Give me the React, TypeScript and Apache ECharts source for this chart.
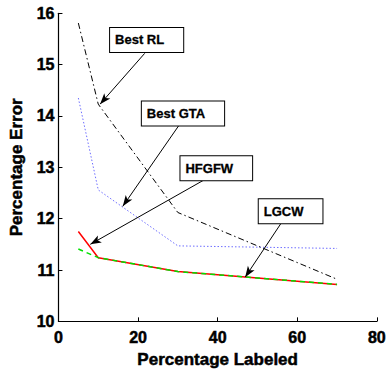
import React, { useEffect, useRef } from "react";
import * as echarts from "echarts";

// Percentage labeled (x) for every method
const labeled = [5, 10, 30, 70];

// Percentage error per method
const bestRL = [15.81, 14.23, 12.12, 10.82];
const bestGTA = [14.35, 12.56, 11.47, 11.42];
const hfgfw = [11.75, 11.24, 10.97, 10.72];
const lgcw = [11.41, 11.24, 10.97, 10.72];

const xTicks = [0, 20, 40, 60, 80];
const yTicks = [10, 11, 12, 13, 14, 15, 16];

// Callout boxes: label text, box centre, arrow tail and arrow tip (data units)
const calloutText = ["Best RL", "Best GTA", "HFGFW", "LGCW"];
const calloutBox = [
  [22.16, 15.48],
  [31.29, 14.05],
  [39.66, 12.98],
  [58.33, 12.145],
];
const calloutTail = [
  [21.67, 15.22],
  [30.39, 13.83],
  [36.49, 12.75],
  [56.02, 11.92],
];
const calloutTip = [
  [10.45, 14.23],
  [16.16, 12.24],
  [8.01, 11.5],
  [46.91, 10.86],
];

const FONT = "'Liberation Sans', Arial, Helvetica, sans-serif";

export default function App() {
  const ref = useRef<HTMLDivElement>(null);

  useEffect(() => {
    if (!ref.current) return;
    const chart = echarts.init(ref.current, undefined, { renderer: "svg" });

    const pts = (ys: number[]) => labeled.map((x, i) => [x, ys[i]]);

    // Heavy axis text: bold face plus a thin same-colour outline
    const boldText = (size: number, stroke = 0.5) => ({
      fontFamily: FONT,
      fontWeight: "bold",
      fontSize: size,
      color: "#000",
      textBorderColor: "#000",
      textBorderWidth: stroke,
    });

    const option: any = {
      animation: false,
      backgroundColor: "#fff",
      grid: { left: 50.5, right: 10.7, top: 13.3, bottom: 37.5 },
      xAxis: {
        type: "value",
        min: xTicks[0],
        max: xTicks[xTicks.length - 1],
        interval: 20,
        name: "Percentage Labeled",
        nameLocation: "middle",
        nameGap: 23,
        nameTextStyle: boldText(17),
        axisLine: { lineStyle: { color: "#000", width: 1.2 } },
        axisTick: { inside: true, length: 4, lineStyle: { color: "#000" } },
        axisLabel: { ...boldText(16), margin: 8 },
        splitLine: { show: false },
      },
      yAxis: {
        type: "value",
        min: yTicks[0],
        max: yTicks[yTicks.length - 1],
        interval: 1,
        name: "Percentage Error",
        nameLocation: "middle",
        nameGap: 31,
        nameTextStyle: boldText(17),
        axisLine: { show: true, lineStyle: { color: "#000", width: 1.2 } },
        axisTick: { show: true, inside: true, length: 4, lineStyle: { color: "#000" } },
        axisLabel: { ...boldText(16), margin: 4 },
        splitLine: { show: false },
      },
      series: [
        {
          name: "Best RL",
          type: "line",
          data: pts(bestRL),
          showSymbol: false,
          lineStyle: { color: "#000", width: 1, type: [6, 3, 1.5, 3] },
          markLine: {
            silent: true,
            symbol: ["none", "arrow"],
            symbolSize: [6, 11],
            label: { show: false },
            lineStyle: { color: "#000", width: 1, type: "solid" },
            data: calloutTail.map((t, i) => [{ coord: t }, { coord: calloutTip[i] }]),
          },
          markPoint: {
            silent: true,
            symbol: "rect",
            symbolSize: 1,
            itemStyle: { color: "rgba(0,0,0,0)" },
            data: calloutBox.map((c, i) => ({
              coord: c,
              label: {
                show: true,
                position: "inside",
                formatter: calloutText[i],
                ...boldText(13, 0.3),
                backgroundColor: "#fff",
                borderColor: "#000",
                borderWidth: 1,
                padding: [5, 19, 4, 5],
                lineHeight: 15,
              },
            })),
          },
          z: 3,
        },
        {
          name: "Best GTA",
          type: "line",
          data: pts(bestGTA),
          showSymbol: false,
          lineStyle: { color: "#6f6fff", width: 1, type: [1.5, 2] },
          z: 2,
        },
        {
          name: "HFGFW",
          type: "line",
          data: pts(hfgfw),
          showSymbol: false,
          lineStyle: { color: "#ff0000", width: 1.5, type: "solid" },
          z: 2,
        },
        {
          name: "LGCW",
          type: "line",
          data: pts(lgcw),
          showSymbol: false,
          lineStyle: { color: "#00e000", width: 1.5, type: [5, 4] },
          z: 2,
        },
      ],
    };

    chart.setOption(option);
    return () => chart.dispose();
  }, []);

  return <div ref={ref} style={{ width: 389, height: 373, position: "absolute", left: 0, top: 0 }} />;
}
